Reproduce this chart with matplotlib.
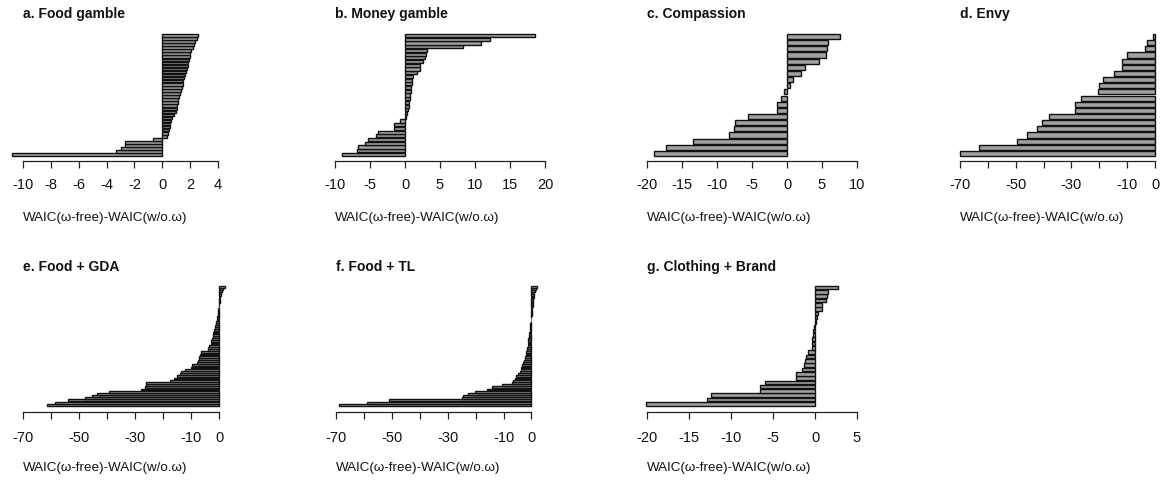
import matplotlib
matplotlib.use("Agg")
import matplotlib.pyplot as plt
import numpy as np

plt.rcParams['font.family'] = ['Liberation Sans', 'DejaVu Sans']

# WAIC differences per participant, sorted ascending (bottom bar first)
food_gamble = [-10.8, -3.3, -3.0, -2.7, -2.7, -0.7,
               0.36, 0.40, 0.48, 0.53, 0.58, 0.63, 0.72, 0.84, 0.96, 1.04,
               1.08, 1.12, 1.16, 1.23, 1.30, 1.35, 1.42, 1.47, 1.52, 1.59,
               1.64, 1.69, 1.76, 1.83, 1.88, 1.93, 1.98, 2.00, 2.05, 2.17,
               2.30, 2.36, 2.46, 2.58]
money_gamble = [-9.0, -6.9, -6.7, -5.7, -5.3, -4.2, -3.9, -1.6, -1.6, -0.7,
                0.2, 0.3, 0.4, 0.5, 0.6, 0.65, 0.7, 0.8, 0.9, 0.95, 1.0,
                1.2, 1.7, 2.1, 2.2, 2.5, 2.8, 3.0, 3.1, 8.3, 10.9, 12.1, 18.5]
compassion = [-19.0, -17.3, -13.5, -8.3, -7.6, -7.4, -5.6, -1.5, -1.5, -0.8,
              -0.5, 0.4, 0.8, 2.0, 2.6, 4.5, 5.5, 5.7, 5.8, 7.5]
envy = [-69.9, -63.3, -49.6, -46.0, -42.3, -40.5, -38.0, -28.7, -28.6, -26.5,
        -20.4, -20.1, -18.6, -14.6, -11.8, -11.8, -9.9, -3.6, -2.7, -0.7]
food_gda = [-61.4, -58.5, -54.0, -48.0, -45.5, -43.5, -39.4, -27.8, -26.5,
            -26.0, -25.9, -17.5, -16.0, -15.0, -14.0, -13.5, -12.0, -10.0,
            -9.5, -8.0, -7.5, -7.2, -7.0, -6.8, -6.5, -4.0, -3.8, -3.5, -3.0,
            -2.7, -2.5, -2.3, -2.1, -2.0, -1.8, -1.6, -1.4, -1.2, -1.0, -0.8,
            -0.7, -0.5, -0.4, -0.3, -0.2, -0.1, 0.1, 0.2, 0.3, 0.4, 0.6, 0.8,
            1.0, 1.3, 2.3]
food_tl = [-69.0, -59.0, -51.0, -25.0, -24.6, -22.6, -20.2, -16.0, -14.3,
           -10.7, -7.1, -6.5, -6.0, -5.4, -4.8, -4.2, -3.9, -3.6, -3.3, -3.0,
           -2.7, -2.4, -2.2, -2.0, -1.8, -1.7, -1.5, -1.4, -1.3, -1.2, -1.1,
           -1.0, -0.9, -0.8, -0.7, -0.6, -0.5, -0.4, -0.3, -0.2, -0.1, 0.05,
           0.1, 0.2, 0.3, 0.4, 0.5, 0.6, 0.7, 0.8, 0.9, 1.0, 1.2, 1.5, 1.8]
clothing_brand = [-20.1, -12.9, -12.4, -6.5, -6.5, -6.0, -2.3, -2.3, -1.5,
                  -1.3, -1.2, -1.1, -0.8, -0.4, -0.3, -0.3, -0.2, -0.2, -0.1,
                  0.1, 0.2, 0.3, 0.8, 0.8, 1.3, 1.4, 1.6, 2.7]

titles = ["a. Food gamble", "b. Money gamble", "c. Compassion", "d. Envy",
          "e. Food + GDA", "f. Food + TL", "g. Clothing + Brand"]
series = [food_gamble, money_gamble, compassion, envy,
          food_gda, food_tl, clothing_brand]

ticks_a = [-10, -8, -6, -4, -2, 0, 2, 4]
ticks_b = [-10, -5, 0, 5, 10, 15, 20]
ticks_c = [-20, -15, -10, -5, 0, 5, 10]
ticks_wide = [-70, -60, -50, -40, -30, -20, -10, 0]
labels_wide = ["-70", "", "-50", "", "-30", "", "-10", "0"]
ticks_g = [-20, -15, -10, -5, 0, 5]
tick_sets = [ticks_a, ticks_b, ticks_c, ticks_wide, ticks_wide, ticks_wide, ticks_g]
label_sets = [None, None, None, labels_wide, labels_wide, labels_wide, None]

xlabel = "WAIC(\u03c9-free)-WAIC(w/o.\u03c9)"

W, H = 1164, 482
fig = plt.figure(figsize=(W / 100, H / 100), dpi=100)

# pixel layout: horizontal extent of each axis line (first tick -> last tick)
x_extent = [(23, 218), (335, 545), (647, 857), (960, 1155),
            (23, 219), (336, 531.5), (647, 857)]
rows = [dict(axis=161, bar_bot=156, bar_top=34, title_y=14, xlabel_y=218, pad=7),
        dict(axis=412.3, bar_bot=405.7, bar_top=285.7, title_y=266.7,
             xlabel_y=467.7, pad=8.5)]
row_of = [0, 0, 0, 0, 1, 1, 1]

fill = "#A0A0A0"

for k in range(7):
    vals = np.asarray(series[k], dtype=float)
    ticks = tick_sets[k]
    x0, x1 = x_extent[k]
    r = rows[row_of[k]]
    ax = fig.add_axes([x0 / W, 1 - r["axis"] / H, (x1 - x0) / W,
                       (r["axis"] - r["bar_top"]) / H])
    n = len(vals)
    pos = 0.7 + 1.2 * np.arange(n)
    ax.barh(pos, vals, height=1.0, color=fill, edgecolor="#111111",
            linewidth=1.0, clip_on=False)
    upp = (1.2 * n - 0.2) / (r["bar_bot"] - r["bar_top"])
    ax.set_ylim(0.2 - (r["axis"] - r["bar_bot"]) * upp, 1.2 * n)
    ax.set_xlim(ticks[0], ticks[-1])
    ax.set_xticks(ticks)
    if label_sets[k] is not None:
        ax.set_xticklabels(label_sets[k])
    else:
        ax.set_xticklabels([str(t) for t in ticks])
    ax.set_yticks([])
    for side in ("left", "right", "top"):
        ax.spines[side].set_visible(False)
    ax.spines["bottom"].set_linewidth(0.9)
    ax.spines["bottom"].set_color("#222222")
    ax.tick_params(axis="x", direction="out", length=5.0, width=0.9,
                   color="#222222", pad=r["pad"], labelsize=10.5,
                   labelcolor="#111111")
    ax.patch.set_visible(False)
    fig.text(x0 / W, 1 - r["title_y"] / H, titles[k], ha="left", va="center",
             fontsize=10, fontweight="bold", color="#111111")
    fig.text(x0 / W, 1 - r["xlabel_y"] / H, xlabel, ha="left", va="center",
             fontsize=9.6, color="#111111")

fig.savefig("out.png", dpi=100)
